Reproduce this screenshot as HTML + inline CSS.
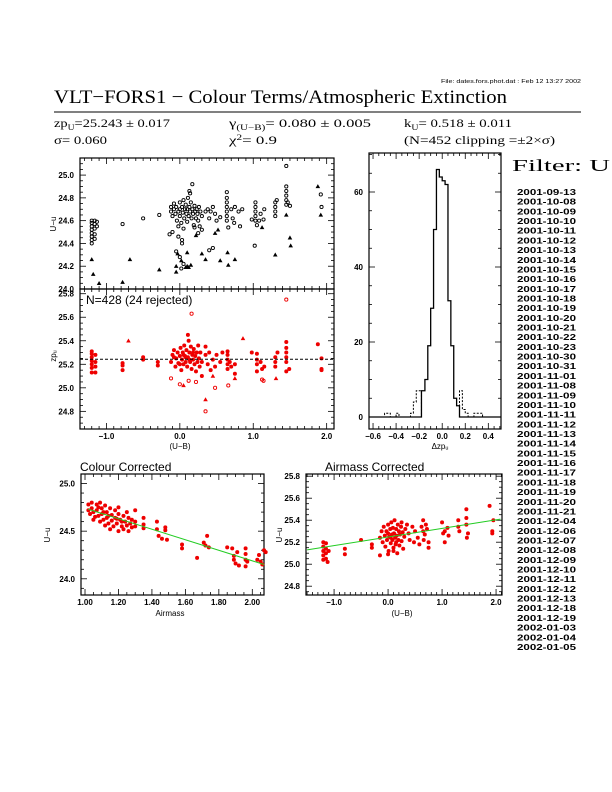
<!DOCTYPE html>
<html><head><meta charset="utf-8"><style>
html,body{margin:0;padding:0;background:#fff;width:612px;height:792px;overflow:hidden}
svg{display:block}
text{font-family:"Liberation Sans",sans-serif}
.ser{font-family:"Liberation Serif",serif}
</style></head><body>
<svg id="page" width="612" height="792" viewBox="0 0 612 792" xmlns="http://www.w3.org/2000/svg">
<text x="441" y="83" font-size="5.5" textLength="140" lengthAdjust="spacingAndGlyphs">File: dates.fors.phot.dat : Feb 12 13:27 2002</text>
<text class="ser" x="54" y="103" font-size="19" textLength="453" lengthAdjust="spacingAndGlyphs">VLT−FORS1 − Colour Terms/Atmospheric Extinction</text>
<line x1="54" y1="112" x2="581" y2="112" stroke="#000" stroke-width="1"/>
<g class="ser" font-size="12">
<text x="54" y="127" class="ser" textLength="116" lengthAdjust="spacingAndGlyphs">zp<tspan font-size="8" dy="3">U</tspan><tspan dy="-3">=25.243 ± 0.017</tspan></text>
<text x="54" y="144" class="ser" textLength="53" lengthAdjust="spacingAndGlyphs">σ= 0.060</text>
<text x="229" y="127" class="ser" textLength="142" lengthAdjust="spacingAndGlyphs">γ<tspan font-size="8" dy="3">(U−B)</tspan><tspan dy="-3">= 0.080 ± 0.005</tspan></text>
<text x="229" y="144" class="ser" textLength="48" lengthAdjust="spacingAndGlyphs">χ<tspan font-size="8" dy="-4">2</tspan><tspan dy="4">=   0.9</tspan></text>
<text x="404" y="127" class="ser" textLength="108" lengthAdjust="spacingAndGlyphs">k<tspan font-size="8" dy="3">U</tspan><tspan dy="-3">= 0.518 ± 0.011</tspan></text>
<text x="404" y="144" class="ser" textLength="151" lengthAdjust="spacingAndGlyphs">(N=452 clipping =±2×σ)</text>
</g>
<text class="ser" x="512" y="171" font-size="17" textLength="98" lengthAdjust="spacingAndGlyphs">Filter: U</text>
<g id="dates"></g>
<g id="charts"></g>
</svg>
<script>
// ---- data ----
const dateLabels=["2001-09-13","2001-10-08","2001-10-09","2001-10-10","2001-10-11","2001-10-12","2001-10-13","2001-10-14","2001-10-15","2001-10-16","2001-10-17","2001-10-18","2001-10-19","2001-10-20","2001-10-21","2001-10-22","2001-10-23","2001-10-30","2001-10-31","2001-11-01","2001-11-08","2001-11-09","2001-11-10","2001-11-11","2001-11-12","2001-11-13","2001-11-14","2001-11-15","2001-11-16","2001-11-17","2001-11-18","2001-11-19","2001-11-20","2001-11-21","2001-12-04","2001-12-06","2001-12-07","2001-12-08","2001-12-09","2001-12-10","2001-12-11","2001-12-12","2001-12-13","2001-12-18","2001-12-19","2002-01-03","2002-01-04","2002-01-05"];

const topUB=[-1.2,-1.2,-1.2,-1.2,-1.2,-1.2,-1.2,-1.2,-1.16,-1.16,-1.16,-1.16,-1.16,-1.13,-1.13,-1.2,-1.18,-1.1,-0.78,-0.78,-0.68,-0.5,-0.28,-0.28,
-0.12,-0.12,-0.1,-0.08,-0.08,-0.06,-0.05,-0.04,-0.02,0,0,0,0.02,0.03,0.04,0.05,0.06,0.07,0.08,0.09,0.1,0.1,0.11,0.12,0.13,0.14,0.15,0.16,0.17,0.17,0.18,0.19,0.2,0.21,0.22,0.23,0.24,0.25,0.26,0.27,0.28,0.3,0.3,0.13,0.14,-0.14,-0.1,-0.02,0.05,0.2,0.25,
-0.05,-0.03,0,0.02,-0.05,0.05,0.08,0.1,0.12,0.15,0.02,-0.05,0.03,0.03,-0.02,0.1,0.3,0.22,
0.35,0.38,0.42,0.45,0.48,0.5,0.55,0.4,0.35,0.4,0.45,0.48,0.55,0.52,
0.64,0.64,0.64,0.64,0.64,0.64,0.64,0.66,0.65,0.66,0.7,0.72,0.74,0.75,0.75,0.8,0.82,0.85,
1.03,1.03,1.03,1.03,1.03,1.02,1.05,1.08,1.1,1.12,1.14,1.15,0.98,
1.3,1.3,1.3,1.3,1.3,1.32,1.45,1.45,1.45,1.45,1.45,1.45,1.45,1.47,1.5,1.5,1.51,1.88,1.92,1.93,1.92];
const topUu=[24.40,24.43,24.46,24.49,24.52,24.55,24.58,24.60,24.44,24.48,24.53,24.57,24.60,24.59,24.55,24.26,24.13,24.05,24.57,24.06,24.26,24.62,24.65,24.17,
24.72,24.68,24.64,24.75,24.70,24.66,24.72,24.60,24.68,24.76,24.70,24.64,24.58,24.72,24.67,24.78,24.62,24.70,24.74,24.66,24.59,24.70,24.80,24.64,24.72,24.68,24.76,24.62,24.92,24.70,24.66,24.56,24.73,24.68,24.62,24.70,24.66,24.60,24.72,24.55,24.68,24.64,24.52,24.86,24.84,24.48,24.50,24.55,24.53,24.54,24.49,
24.33,24.31,24.28,24.25,24.20,24.22,24.19,24.20,24.19,24.21,24.18,24.15,24.43,24.40,24.46,24.32,24.31,24.47,
24.68,24.70,24.68,24.72,24.66,24.60,24.63,24.62,24.26,24.34,24.36,24.49,24.25,24.52,
24.60,24.64,24.68,24.72,24.76,24.80,24.85,24.54,24.32,24.21,24.70,24.62,24.58,24.72,24.26,24.68,24.55,24.70,
24.60,24.64,24.68,24.72,24.76,24.38,24.56,24.60,24.66,24.54,24.61,24.70,24.61,
24.64,24.68,24.72,24.76,24.30,24.78,24.65,24.74,24.78,24.82,24.86,24.90,25.08,24.76,24.73,24.45,24.38,24.90,24.83,24.72,24.65];
const topSym=[0,0,0,0,0,0,0,0,0,0,0,0,0,0,0,1,1,1,0,1,1,0,0,1,
0,0,0,0,0,0,0,0,0,0,0,0,0,0,0,0,0,0,0,0,0,0,0,0,0,0,0,0,0,0,0,0,0,0,0,0,0,0,0,0,0,0,0,0,0,0,0,0,0,0,0,
0,1,0,1,1,0,1,1,1,1,0,1,0,0,0,1,1,1,
0,0,0,0,0,0,0,0,1,0,0,1,1,1,
0,0,0,0,0,0,0,0,1,1,0,0,0,0,1,0,0,0,
0,0,0,0,0,0,0,0,0,1,0,0,0,
0,0,0,0,1,0,1,0,0,0,0,0,0,0,0,1,1,1,0,0,1];

const zpUB=[-1.2,-1.2,-1.2,-1.2,-1.2,-1.2,-1.2,-1.15,-1.15,-1.15,-1.15,-0.78,-0.78,-0.78,-0.7,-0.5,-0.5,-0.3,-0.3,
-0.12,-0.1,-0.08,-0.06,-0.05,-0.03,-0.02,0,0.01,0.02,0.03,0.04,0.05,0.06,0.07,0.08,0.09,0.1,0.11,0.11,0.12,0.13,0.14,0.15,0.16,0.17,0.18,0.19,0.2,0.21,0.22,0.23,0.24,0.25,0.26,0.27,0.28,0.3,-0.08,0,0.05,0.13,0.18,0.08,
0.35,0.38,0.4,0.42,0.45,0.48,0.5,0.55,0.58,0.35,0.45,0.3,
-0.12,0,0.05,0.12,0.16,0.22,0.35,0.35,0.48,0.66,
0.65,0.65,0.65,0.65,0.65,0.68,0.7,0.75,0.75,0.75,0.86,
1.05,1.05,1.05,1.05,1.1,1.12,1.15,1.12,1.14,0.98,
1.3,1.3,1.3,1.33,1.31,1.45,1.45,1.45,1.45,1.45,1.45,1.45,1.49,1.88,1.93,1.93,1.93];
const zpVal=[25.13,25.17,25.20,25.23,25.26,25.29,25.31,25.13,25.18,25.22,25.28,25.19,25.21,25.15,25.40,25.26,25.24,25.22,25.19,
25.22,25.28,25.32,25.18,25.25,25.30,25.21,25.27,25.34,25.15,25.24,25.30,25.20,25.36,25.27,25.22,25.32,25.18,25.45,25.26,25.40,25.30,25.22,25.35,25.16,25.28,25.24,25.33,25.20,25.27,25.14,25.30,25.22,25.36,25.25,25.18,25.30,25.22,25.26,25.20,25.28,25.24,25.30,25.26,
25.28,25.20,25.30,25.15,25.24,25.18,25.28,25.22,25.30,25.35,25.10,25.10,
25.08,25.03,25.02,25.06,25.63,25.05,24.90,24.80,25.00,25.02,
25.16,25.20,25.24,25.28,25.31,25.22,25.18,25.12,25.20,25.08,25.42,
25.14,25.20,25.24,25.29,25.22,25.16,25.18,25.07,25.06,25.30,
25.18,25.22,25.26,25.30,25.08,25.14,25.22,25.26,25.30,25.34,25.39,25.75,25.16,25.37,25.25,25.15,25.16];
const zpSym=[2,2,2,2,2,2,2,2,2,2,2,2,2,2,1,2,2,2,2,
2,2,2,2,2,2,2,2,2,2,2,2,2,2,2,2,2,2,2,2,2,2,2,2,2,2,2,2,2,2,2,2,2,2,2,2,2,2,2,2,2,2,2,2,
2,2,2,2,2,2,2,2,2,2,1,2,
0,0,1,0,0,0,1,0,0,0,
2,2,2,2,2,2,2,2,2,1,1,
2,2,2,2,2,2,2,0,0,2,
2,2,2,2,1,2,2,2,2,2,2,0,2,2,2,2,2];

const histEdges=[-0.18,-0.15,-0.125,-0.1,-0.075,-0.05,-0.025,0,0.025,0.05,0.075,0.1,0.125,0.15];
const histCounts=[7,10,19,29,50,66,64,63,62,31,19,5,3];
const rejEdges=[-0.5,-0.45,-0.4,-0.375,-0.275,-0.25,-0.225,-0.2,-0.18];
const rejCounts=[1,0,1,0,1,4,7,7];
const rejEdgesR=[0.15,0.175,0.2,0.225,0.275,0.3,0.35];
const rejCountsR=[7,2,1,0,1,1];

const amX=[1.02,1.02,1.03,1.04,1.04,1.05,1.06,1.07,1.07,1.08,1.09,1.09,1.10,1.10,1.11,1.12,1.12,1.13,1.13,1.14,1.15,1.15,1.16,1.16,1.17,1.18,1.18,1.19,1.20,1.20,1.21,1.22,1.23,1.23,1.24,1.25,1.26,1.26,1.27,1.28,1.28,1.30,1.30,1.30,1.05,1.11,1.14,1.19,1.22,1.08,
1.20,1.25,1.35,1.35,1.35,1.43,1.43,1.44,1.46,1.48,1.48,1.49,1.58,1.58,1.67,1.71,1.72,1.73,1.74,1.85,1.88,1.89,1.89,1.90,1.91,1.92,1.96,1.96,1.96,1.97,1.96,2.03,2.04,2.05,2.06,2.07,2.08];
const amY=[24.78,24.72,24.68,24.80,24.74,24.70,24.65,24.78,24.72,24.66,24.80,24.60,24.74,24.68,24.62,24.77,24.56,24.70,24.64,24.58,24.74,24.52,24.67,24.61,24.55,24.72,24.64,24.58,24.50,24.68,24.62,24.55,24.66,24.52,24.60,24.56,24.64,24.50,24.58,24.62,24.54,24.72,24.60,24.55,24.62,24.70,24.66,24.63,24.60,24.75,
24.75,24.70,24.64,24.57,24.53,24.60,24.52,24.45,24.42,24.54,24.51,24.41,24.36,24.32,24.22,24.38,24.35,24.45,24.33,24.33,24.32,24.24,24.20,24.16,24.28,24.14,24.32,24.26,24.20,24.18,24.13,24.20,24.25,24.18,24.15,24.30,24.28];
const amFit=[24.73,24.15];
const amFitX=[1.02,2.07];

const acX=[-1.2,-1.2,-1.2,-1.2,-1.2,-1.15,-1.15,-1.15,-1.15,-1.12,-1.1,-0.8,-0.8,-0.5,-0.3,-0.3,
-0.15,-0.12,-0.10,-0.08,-0.06,-0.05,-0.03,-0.02,0,0,0.01,0.02,0.04,0.05,0.06,0.07,0.08,0.09,0.10,0.11,0.12,0.13,0.14,0.15,0.16,0.17,0.18,0.19,0.20,0.21,0.22,0.24,0.25,0.27,0.28,0.30,0.32,-0.15,0,0.1,0.05,0.15,0.25,
0.35,0.38,0.40,0.45,0.48,0.50,0.55,0.58,0.62,0.65,0.65,0.66,0.68,0.70,0.72,0.75,0.75,1.0,1.02,1.05,1.05,1.10,1.12,1.30,1.30,1.32,1.45,1.45,1.45,1.46,1.48,1.88,1.93,1.93,1.95];
const acY=[25.20,25.16,25.12,25.08,25.04,25.19,25.14,25.10,25.05,25.02,25.12,25.14,25.09,25.22,25.18,25.15,
25.24,25.30,25.20,25.34,25.26,25.16,25.30,25.22,25.36,25.28,25.12,25.25,25.32,25.19,25.38,25.27,25.22,25.33,25.15,25.28,25.40,25.24,25.18,25.32,25.26,25.10,25.36,25.22,25.30,25.17,25.27,25.34,25.21,25.29,25.14,25.25,25.32,25.08,25.09,25.12,25.24,25.20,25.38,
25.36,25.28,25.22,25.34,25.20,25.30,25.24,25.18,25.34,25.40,25.30,25.22,25.27,25.36,25.32,25.20,25.15,25.38,25.28,25.20,25.30,25.33,25.26,25.40,25.34,25.30,25.50,25.42,25.36,25.24,25.28,25.53,25.30,25.28,25.40];
const acFit=[25.13,25.41];
const acFitX=[-1.5,2.08];

// ---- drawing ----
const NS="http://www.w3.org/2000/svg";
const root=document.getElementById('charts');
function mk(tag,attrs,parent){const e=document.createElementNS(NS,tag);for(const k in attrs)e.setAttribute(k,attrs[k]);(parent||root).appendChild(e);return e;}
function lin(d0,d1,r0,r1){return v=>r0+(v-d0)*(r1-r0)/(d1-d0);}
function panel(name,x0,x1,y0,y1,xd,yd,xt,yt){
  const g=mk('g',{});
  
  
  const sx=lin(xd[0],xd[1],x0,x1), sy=lin(yd[0],yd[1],y1,y0);
  const fr=mk('rect',{x:x0,y:y0,width:x1-x0,height:y1-y0,fill:'none',stroke:'#000','stroke-width':1.2},g);
  
  
  const tg=mk('g',{stroke:'#000','stroke-width':0.8},g);
  
  
  const eps=1e-6;
  for(let v=Math.ceil(xd[0]/xt.minor-eps)*xt.minor; v<=xd[1]+eps; v+=xt.minor){
    const X=sx(v); const maj=Math.abs(v/xt.major-Math.round(v/xt.major))<1e-4; const L=maj?6:3;
    mk('line',{x1:X,y1:y1,x2:X,y2:y1-L},tg); mk('line',{x1:X,y1:y0,x2:X,y2:y0+L},tg);
  }
  for(let v=Math.ceil(yd[0]/yt.minor-eps)*yt.minor; v<=yd[1]+eps; v+=yt.minor){
    const Y=sy(v); const maj=Math.abs(v/yt.major-Math.round(v/yt.major))<1e-4; const L=maj?6:3;
    mk('line',{x1:x0,y1:Y,x2:x0+L,y2:Y},tg); mk('line',{x1:x1,y1:Y,x2:x1-L,y2:Y},tg);
  }
  if(xt.labels){ xt.labels.forEach(v=>{const t=mk('text',{x:sx(v),y:y1+10,'font-size':8,'text-anchor':'middle','font-weight':'bold'},g);t.textContent=(v<0?'−':'')+Math.abs(v).toFixed(xt.dec);});}
  if(yt.labels){ yt.labels.forEach(v=>{const t=mk('text',{x:x0-6,y:sy(v)+3,'font-size':8,'text-anchor':'end','font-weight':'bold'},g);t.textContent=v.toFixed(yt.dec);});}
  return {g,sx,sy};
}
function marker(g,sym,X,Y,col,filled){
  let e;
  if(sym===1){e=mk('path',{d:`M${X-1.6},${Y+1.3}L${X+1.6},${Y+1.3}L${X},${Y-1.5}Z`,fill:filled?col:'none',stroke:col,'stroke-width':0.8},g);}
  else if(sym===2){e=mk('circle',{cx:X,cy:Y,r:2.0,fill:col},g);}
  else {e=mk('circle',{cx:X,cy:Y,r:1.6,fill:filled?col:'none',stroke:col,'stroke-width':0.9},g);}
  
  
}

const P1=panel('uu-vs-colour-panel',80,334,158,289,[-1.36,2.1],[24.0,25.15],{minor:0.1,major:1},{minor:0.05,major:0.2,labels:[24.0,24.2,24.4,24.6,24.8,25.0],dec:1});
topUB.forEach((v,i)=>marker(P1.g,topSym[i],P1.sx(v),P1.sy(topUu[i]),'#000',topSym[i]===1));
const P2=panel('zp-vs-colour-panel',80,334,289,429,[-1.36,2.1],[24.65,25.84],{minor:0.1,major:1,labels:[-1,0,1,2],dec:1},{minor:0.05,major:0.2,labels:[24.8,25.0,25.2,25.4,25.6,25.8],dec:1});
zpUB.forEach((v,i)=>marker(P2.g,zpSym[i],P2.sx(v),P2.sy(zpVal[i]),'#e00',zpSym[i]===1));
const zl=mk('line',{x1:80,x2:334,y1:P2.sy(25.243),y2:P2.sy(25.243),stroke:'#000','stroke-width':1,'stroke-dasharray':'3,2'},P2.g);


const nt=mk('text',{x:86,y:304,'font-size':12},P2.g); nt.textContent='N=428 (24 rejected)';


const H=panel('residual-histogram',369,501,153,429,[-0.635,0.51],[-3.2,70.4],{minor:0.05,major:0.2,labels:[-0.6,-0.4,-0.2,0,0.2,0.4],dec:1},{minor:5,major:20,labels:[0,20,40,60],dec:0});
function stepPath(edges,counts,extendL,extendR){
  let d=`M${extendL},${H.sy(0)}L${H.sx(edges[0])},${H.sy(0)}`;
  counts.forEach((c,i)=>{d+=`L${H.sx(edges[i])},${H.sy(c)}L${H.sx(edges[i+1])},${H.sy(c)}`;});
  d+=`L${H.sx(edges[edges.length-1])},${H.sy(0)}L${extendR},${H.sy(0)}`; return d;
}
const hd1=mk('path',{d:stepPath(rejEdges,rejCounts,369,H.sx(rejEdges[rejEdges.length-1])),fill:'none',stroke:'#000','stroke-width':1,'stroke-dasharray':'2,1.5'},H.g);


const hd2=mk('path',{d:stepPath(rejEdgesR,rejCountsR,H.sx(0.15),H.sx(0.35)),fill:'none',stroke:'#000','stroke-width':1,'stroke-dasharray':'2,1.5'},H.g);


const hs=mk('path',{d:stepPath(histEdges,histCounts,369,501),fill:'none',stroke:'#000','stroke-width':1.3},H.g);


const BL=panel('colour-corrected-panel',81,264,474,595,[0.976,2.07],[23.83,25.1],{minor:0.05,major:0.2,labels:[1,1.2,1.4,1.6,1.8,2.0],dec:2},{minor:0.1,major:0.5,labels:[24.0,24.5,25.0],dec:1});
amX.forEach((v,i)=>marker(BL.g,2,BL.sx(v),BL.sy(amY[i]),'#e00',true));
const f1=mk('line',{x1:BL.sx(amFitX[0]),y1:BL.sy(amFit[0]),x2:264,y2:BL.sy(amFit[0]+(amFit[1]-amFit[0])*(2.07-amFitX[0])/(amFitX[1]-amFitX[0])),stroke:'#2c2','stroke-width':1},BL.g);


const BR=panel('airmass-corrected-panel',306,502,474,595,[-1.52,2.11],[24.72,25.82],{minor:0.1,major:1,labels:[-1,0,1,2],dec:1},{minor:0.05,major:0.2,labels:[24.8,25.0,25.2,25.4,25.6,25.8],dec:1});
acX.forEach((v,i)=>marker(BR.g,2,BR.sx(v),BR.sy(acY[i]),'#e00',true));
const f2=mk('line',{x1:BR.sx(acFitX[0]),y1:BR.sy(acFit[0]),x2:BR.sx(acFitX[1]),y2:BR.sy(acFit[1]),stroke:'#2c2','stroke-width':1},BR.g);



function lab(name,txt,x,y,size,rot,anchor){
  const t=mk('text',{x:x,y:y,'font-size':size,'text-anchor':anchor||'middle'});
  if(rot) t.setAttribute('transform',`rotate(-90 ${x} ${y})`);
  t.textContent=txt;
  
  
}
lab('y-axis-title-uu','U−u',56,224,8,true);
lab('y-axis-title-zp','zpᵤ',56,356,8,true);
lab('x-axis-title-colour','(U−B)',180,449,8);
lab('x-axis-title-dzp','Δzpᵤ',440,449,8);
lab('panel-title-colour-corrected','Colour Corrected',80,471,12,false,'start');
lab('panel-title-airmass-corrected','Airmass Corrected',325,471,12,false,'start');
lab('y-axis-title-bl','U−u',50,535,8,true);
lab('x-axis-title-airmass','Airmass',170,616,8);
lab('y-axis-title-br','U−u',282,535,8,true);
lab('x-axis-title-colour-br','(U−B)',402,616,8);

const dg=document.getElementById('dates');
dateLabels.forEach((d,i)=>{
  const t=document.createElementNS(NS,'text');
  t.setAttribute('x',517);t.setAttribute('y',195+i*9.68);
  t.setAttribute('font-size',8.5);t.setAttribute('font-weight','bold');
  t.setAttribute('textLength',59);t.setAttribute('lengthAdjust','spacingAndGlyphs');
  t.textContent=d;
  
  
  dg.appendChild(t);
});
</script>
</body></html>
